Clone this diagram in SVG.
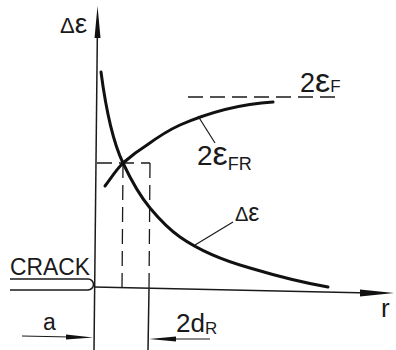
<svg xmlns="http://www.w3.org/2000/svg" width="396" height="350" viewBox="0 0 396 350">
<style>
.ax{stroke:#1a1a1a;stroke-width:1.5;fill:none}
.cv{stroke:#111;stroke-width:3;fill:none;stroke-linecap:round}
.ds{stroke:#1a1a1a;stroke-width:1.3;fill:none;stroke-dasharray:15,7}
.ld{stroke:#1a1a1a;stroke-width:1.2;fill:none}
.hd{fill:#111;stroke:none}
text{font-family:"Liberation Sans",Arial,sans-serif;fill:#1a1a1a}
</style>
<rect width="396" height="350" fill="#fff"/>
<g id="connectors">
<line class="ax" x1="97.5" y1="20" x2="94" y2="350"/>
<polygon class="hd" points="97.5,6 100.5,38 94.5,38"/>
<line class="ax" x1="94" y1="287" x2="370" y2="293"/>
<polygon class="hd" points="394,293 360,289.5 360,296.5"/>
<path class="ax" d="M10,279 L88,279 A5.5,5.5 0 0 1 88,290 L10,290"/>
<line class="ds" x1="97" y1="163" x2="150" y2="163"/>
<line class="ds" x1="123" y1="163" x2="122" y2="288"/>
<line class="ds" x1="150" y1="163" x2="149" y2="289"/>
<line class="ax" x1="149" y1="289" x2="148" y2="350"/>
<line class="ds" x1="188" y1="97" x2="342" y2="97" stroke-dasharray="16,7"/>
<path class="cv" d="M101,72 C106,110 112,140 123,163 C131,180 140,196 150,208 C160,220 170,230 180,237 C200,251 225,261 250,268 C280,277 305,283 328,287"/>
<path class="cv" d="M105,186 C111,178 116,170 123,163 C131,156 139,150 147,145 C158,137 169,130 180,125 C210,112 240,104 273,102"/>
<line class="ld" x1="198" y1="116" x2="215" y2="143"/>
<line class="ld" x1="195" y1="245" x2="233" y2="222"/>
<line class="ld" x1="22" y1="336" x2="70" y2="337"/>
<polygon class="hd" points="93,337.5 66,334.5 66,339.5"/>
<line class="ld" x1="170" y1="339" x2="210" y2="339"/>
<polygon class="hd" points="149,339 176,336.5 176,341.5"/>
</g>
<g id="label-delta-eps-axis"><text x="60" y="33" font-size="22">Δ<tspan font-size="28">ε</tspan></text></g>
<g id="label-2epsF"><text x="300" y="92" font-size="27">2<tspan font-size="34">ε</tspan><tspan font-size="17">F</tspan></text></g>
<g id="label-2epsFR"><text x="197" y="165" font-size="28">2<tspan font-size="34">ε</tspan><tspan font-size="18" dy="5">FR</tspan></text></g>
<g id="label-delta-eps"><text x="235" y="221" font-size="20">Δ<tspan font-size="25">ε</tspan></text></g>
<g id="label-crack"><text x="10" y="275" font-size="23" textLength="80" lengthAdjust="spacingAndGlyphs">CRACK</text></g>
<g id="label-a"><text x="43" y="330" font-size="23">a</text></g>
<g id="label-2dR"><text x="176" y="332" font-size="26">2d<tspan font-size="17" dy="2">R</tspan></text></g>
<g id="label-r"><text x="381" y="317" font-size="26">r</text></g>
</svg>
